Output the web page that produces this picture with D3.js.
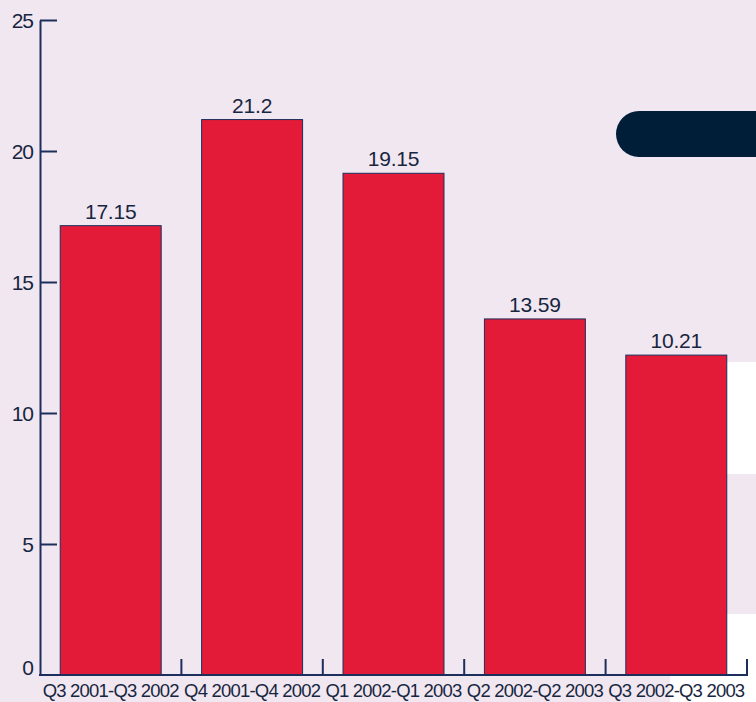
<!DOCTYPE html>
<html>
<head>
<meta charset="utf-8">
<script src="https://cdn.jsdelivr.net/npm/d3@7"></script>
<style>
  html, body { margin: 0; padding: 0; background: #f1e7f0; }
  svg { display: block; font-family: "Liberation Sans", Arial, sans-serif; }
</style>
</head>
<body>
<svg id="chart" width="756" height="702"></svg>
<script>
// periods on the x axis
var periods = ['Q3 2001-Q3 2002', 'Q4 2001-Q4 2002', 'Q1 2002-Q1 2003', 'Q2 2002-Q2 2003', 'Q3 2002-Q3 2003'];
// bar heights as drawn
var values = [17.15, 21.2, 19.15, 13.59, 12.21];
// labels printed above the bars (last one differs from its bar in the source)
var valueLabels = ['17.15', '21.2', '19.15', '13.59', '10.21'];
var yTicks = [0, 5, 10, 15, 20, 25];

var navy = '#1c2f5c',
    ink = '#172640',
    red = '#e31b38';

var svg = d3.select('#chart');

var x = d3.scaleBand()
  .domain(periods)
  .range([40, 747])
  .paddingInner(0.286)
  .paddingOuter(0.143);

var y = d3.scaleLinear()
  .domain([0, 25])
  .range([675, 20]);

// background patches
svg.append('rect').attr('x', 727).attr('y', 362).attr('width', 29).attr('height', 112).attr('fill', '#fff');
svg.append('rect').attr('x', 727).attr('y', 614).attr('width', 29).attr('height', 62).attr('fill', '#fff');
svg.append('rect').attr('x', 670).attr('y', 676).attr('width', 86).attr('height', 26).attr('fill', '#fff');
svg.append('rect').attr('x', 616).attr('y', 111).attr('width', 180).attr('height', 46)
  .attr('rx', 23).attr('fill', '#001e38');

// bars
svg.selectAll('rect.bar')
  .data(values)
  .enter()
  .append('rect')
    .attr('class', 'bar')
    .attr('x', function(d, i) { return x(periods[i]); })
    .attr('y', function(d) { return y(d); })
    .attr('width', x.bandwidth())
    .attr('height', function(d) { return y(0) - y(d); })
    .attr('fill', red)
    .attr('stroke', navy)
    .attr('stroke-width', 1);

svg.selectAll('text.val')
  .data(values)
  .enter()
  .append('text')
    .attr('class', 'val')
    .attr('x', function(d, i) { return x(periods[i]) + x.bandwidth() / 2; })
    .attr('y', function(d) { return y(d) - 7; })
    .attr('text-anchor', 'middle')
    .attr('fill', ink)
    .style('font-size', '21px')
    .style('letter-spacing', '-0.2px')
    .text(function(d, i) { return valueLabels[i]; });

// y axis
var yAxis = svg.append('g')
  .attr('transform', 'translate(40,0)')
  .call(d3.axisLeft(y).tickValues(yTicks).tickSize(-17).tickSizeOuter(0).tickPadding(7));
yAxis.select('.domain').attr('stroke', navy).attr('stroke-width', 2);
yAxis.selectAll('.tick line').attr('stroke', navy).attr('stroke-width', 2);
yAxis.selectAll('.tick text')
  .attr('fill', ink)
  .style('font-size', '21px')
  .style('font-family', '"Liberation Sans", Arial, sans-serif')
  .style('letter-spacing', '-1px')
  .attr('dy', function(d) { return d === 0 ? '-0.02em' : '0.35em'; });
yAxis.select('.tick line').filter(function(d) { return d === 0; }).remove();

// x axis line and boundary ticks
svg.append('line')
  .attr('x1', 39).attr('x2', 748)
  .attr('y1', y(0)).attr('y2', y(0))
  .attr('stroke', navy).attr('stroke-width', 2);

svg.selectAll('line.xtick')
  .data(periods)
  .enter()
  .append('line')
    .attr('class', 'xtick')
    .attr('x1', function(d) { return x(d) + x.bandwidth() + (x.step() - x.bandwidth()) / 2; })
    .attr('x2', function(d) { return x(d) + x.bandwidth() + (x.step() - x.bandwidth()) / 2; })
    .attr('y1', y(0) - 16).attr('y2', y(0))
    .attr('stroke', navy).attr('stroke-width', 2);

var xAxis = svg.append('g')
  .attr('transform', 'translate(0,' + y(0) + ')')
  .call(d3.axisBottom(x).tickSize(0).tickPadding(0));
xAxis.select('.domain').remove();
xAxis.selectAll('.tick text')
  .attr('y', 22)
  .attr('dy', 0)
  .attr('fill', ink)
  .style('font-size', '18.5px')
  .style('font-family', '"Liberation Sans", Arial, sans-serif')
  .style('letter-spacing', '-0.8px');
</script>
</body>
</html>
